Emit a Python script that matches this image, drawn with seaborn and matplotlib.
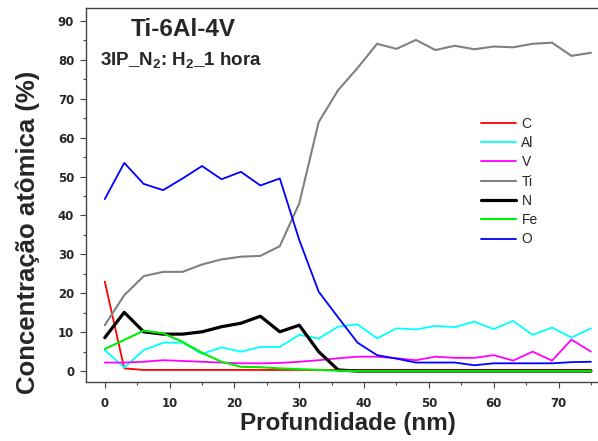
import matplotlib
matplotlib.use("Agg")
import matplotlib.pyplot as plt
import pandas as pd
import seaborn as sns
from matplotlib.ticker import MultipleLocator

sns.set_theme(style="ticks")
plt.rcParams['font.family'] = ['Liberation Sans', 'DejaVu Sans']
plt.rcParams['mathtext.default'] = 'regular'

# Perfil de profundidade (nm)
profundidade = [0, 3, 6, 9, 12, 15, 18, 21, 24, 27, 30, 33, 36,
                39, 42, 45, 48, 51, 54, 57, 60, 63, 66, 69, 72, 75]

c = [23.0, 0.7, 0.3, 0.3, 0.3, 0.3, 0.3, 0.3, 0.3, 0.3, 0.3, 0.3, 0.3,
     0.3, 0.3, 0.3, 0.3, 0.3, 0.3, 0.3, 0.3, 0.3, 0.3, 0.3, 0.3, 0.3]
al = [5.4, 0.9, 5.4, 7.3, 7.3, 4.4, 6.1, 5.0, 6.2, 6.2, 9.3, 8.4, 11.4,
      12.0, 8.4, 11.0, 10.7, 11.6, 11.3, 12.7, 10.8, 12.9, 9.3, 11.2, 8.6, 11.0]
v = [2.2, 2.2, 2.4, 2.8, 2.6, 2.4, 2.2, 2.0, 2.0, 2.1, 2.4, 2.8, 3.3,
     3.7, 3.7, 3.3, 2.8, 3.7, 3.4, 3.4, 4.1, 2.7, 5.0, 2.7, 8.1, 5.0]
ti = [11.8, 19.5, 24.4, 25.5, 25.5, 27.4, 28.7, 29.4, 29.6, 32.1, 43.1, 64.0, 72.2,
      77.9, 84.1, 82.8, 85.1, 82.5, 83.6, 82.7, 83.4, 83.2, 84.1, 84.4, 81.0, 81.8]
n = [8.6, 15.1, 10.1, 9.5, 9.5, 10.1, 11.4, 12.3, 14.1, 10.1, 11.8, 5.0, 0.3,
     0.0, 0.0, 0.0, 0.0, 0.0, 0.0, 0.0, 0.0, 0.0, 0.0, 0.0, 0.0, 0.0]
fe = [5.7, 8.0, 10.4, 9.7, 7.5, 4.7, 2.4, 1.1, 1.0, 0.7, 0.5, 0.3, 0.1,
      0.0, 0.0, 0.0, 0.0, 0.0, 0.0, 0.0, 0.0, 0.0, 0.0, 0.0, 0.0, 0.0]
o = [44.2, 53.5, 48.1, 46.5, 49.5, 52.7, 49.3, 51.2, 47.7, 49.5, 33.7, 20.4, 13.8,
     7.3, 4.1, 3.2, 2.2, 2.2, 2.2, 1.5, 2.0, 2.0, 2.0, 2.0, 2.3, 2.4]

elementos = ['C', 'Al', 'V', 'Ti', 'N', 'Fe', 'O']
cores = ['#ff0000', '#00ffff', '#ff00ff', '#808080', '#000000', '#00ee00', '#0000ff']
larguras = [1.3, 1.3, 1.3, 1.5, 2.3, 1.5, 1.3]

df = pd.DataFrame({'profundidade': profundidade, 'C': c, 'Al': al, 'V': v,
                   'Ti': ti, 'N': n, 'Fe': fe, 'O': o})

fig = plt.figure(figsize=(5.98, 4.41), dpi=100)
ax = fig.add_axes([86 / 598, 59 / 441, 514 / 598, 374 / 441])

for el, cor, lw in zip(elementos, cores, larguras):
    sns.lineplot(data=df, x='profundidade', y=el, color=cor, linewidth=lw,
                 label=el, ax=ax)

ax.set_xlim(-2.9, 76.4)
ax.set_ylim(-2.8, 93.3)
ax.xaxis.set_major_locator(MultipleLocator(10))
ax.xaxis.set_minor_locator(MultipleLocator(5))
ax.yaxis.set_major_locator(MultipleLocator(10))
ax.yaxis.set_minor_locator(MultipleLocator(5))
ax.tick_params(which='major', length=4.5, width=0.8, color='#444444', labelsize=8.5)
ax.tick_params(which='minor', length=2.5, width=0.8, color='#444444')
ax.tick_params(axis='x', which='major', pad=6.5)
ax.tick_params(axis='y', which='major', pad=4)
for lab in ax.get_xticklabels() + ax.get_yticklabels():
    lab.set_fontweight('bold')
    lab.set_family('DejaVu Sans')

for lado in ['left', 'bottom', 'top']:
    ax.spines[lado].set_color('#444444')
    ax.spines[lado].set_linewidth(1.0)
ax.spines['right'].set_visible(False)

ax.set_xlabel('Profundidade (nm)', fontsize=17.5, fontweight='bold')
ax.set_ylabel('Concentração atômica (%)', fontsize=18.5, fontweight='bold')
ax.xaxis.set_label_coords(0.51, -0.08)
ax.yaxis.set_label_coords(-0.09, 0.40)

ax.text(0.19, 0.943, 'Ti-6Al-4V', transform=ax.transAxes, fontsize=17.5,
        fontweight='bold', ha='center', va='center')
ax.text(0.027, 0.862, '3IP_N$_2$: H$_2$_1 hora', transform=ax.transAxes,
        fontsize=13.5, fontweight='bold', ha='left', va='center')

leg = ax.legend(loc='upper left', bbox_to_anchor=(0.758, 0.724), frameon=False,
                fontsize=10, handlelength=2.5, handletextpad=0.4,
                labelspacing=0.38, borderaxespad=0)

fig.savefig('out.png', dpi=100)
